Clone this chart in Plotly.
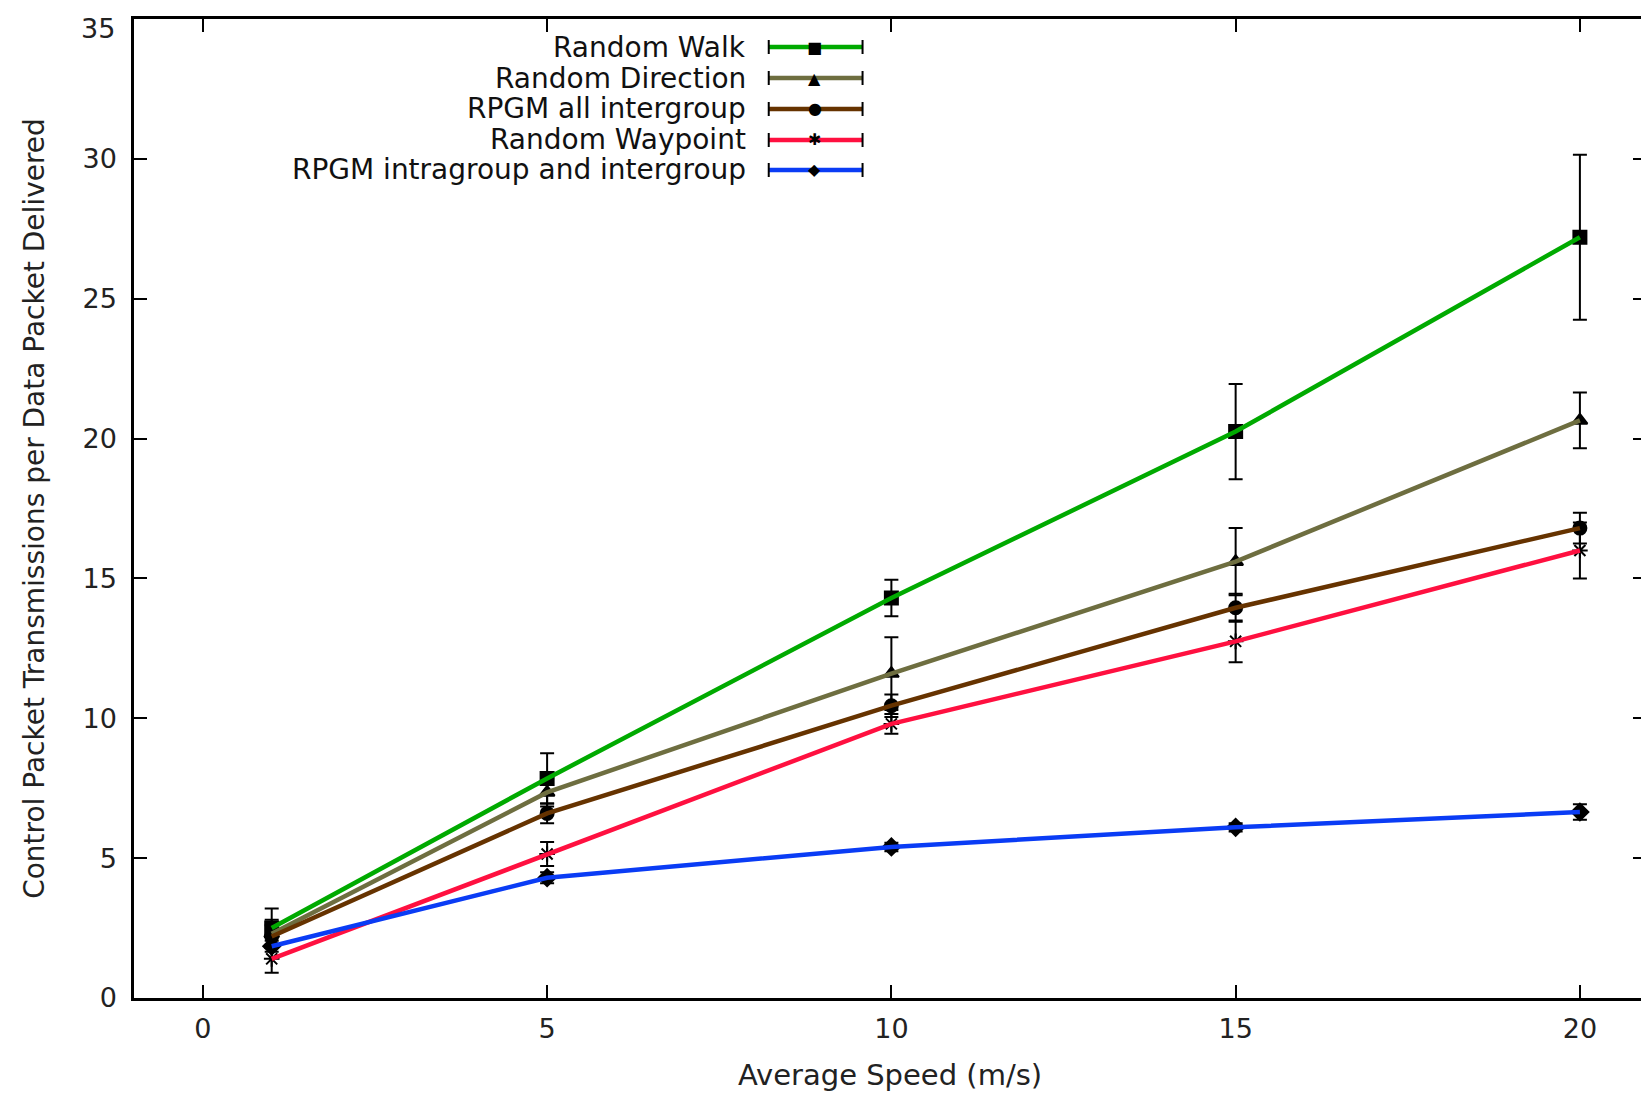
import plotly.graph_objects as go

# ---------------- data ----------------
speeds = [1, 5, 10, 15, 20]
series_names = ["Random Walk", "Random Direction", "RPGM all intergroup",
                "Random Waypoint", "RPGM intragroup and intergroup"]
random_walk = [2.5, 7.85, 14.3, 20.25, 27.2]
random_walk_err = [0.7, 0.9, 0.65, 1.7, 2.95]
random_direction = [2.3, 7.35, 11.6, 15.6, 20.65]
random_direction_err = [0.5, 0.5, 1.3, 1.2, 1.0]
rpgm_all = [2.2, 6.6, 10.45, 13.95, 16.8]
rpgm_all_err = [0.4, 0.35, 0.4, 0.5, 0.55]
random_waypoint = [1.4, 5.15, 9.8, 12.75, 16.0]
random_waypoint_err = [0.5, 0.43, 0.35, 0.75, 1.0]
rpgm_intra = [1.85, 4.3, 5.4, 6.1, 6.65]
rpgm_intra_err = [0.2, 0.2, 0.15, 0.15, 0.28]

x_ticks = [0, 5, 10, 15, 20]
y_ticks = [0, 5, 10, 15, 20, 25, 30, 35]

# ---------------- styles ----------------
colors = ["#00AA00", "#6E6E40", "#663300", "#FF1040", "#0A3CF5"]
symbols = ["square", "triangle-up", "circle", "asterisk-open", "diamond"]
glyphs = ["■", "▲", "●", "✱", "◆"]
values = [random_walk, random_direction, rpgm_all, random_waypoint, rpgm_intra]
errors = [random_walk_err, random_direction_err, rpgm_all_err,
          random_waypoint_err, rpgm_intra_err]

FONT = "DejaVu Sans"
TICK_SIZE = 27
OFF = 8  # default body margin of the html page
W, H = 1649 - OFF, 1093 - OFF
ML, MR, MT, MB = 134 - OFF, 0, 19 - OFF, 95

fig = go.Figure()

# markers + error bars (black), drawn first
for name, v, e, sym in zip(series_names, values, errors, symbols):
    fig.add_trace(go.Scatter(
        x=speeds, y=v, mode="markers", name=name, showlegend=False,
        marker=dict(symbol=sym, size=13, color="black",
                    line=dict(color="black", width=2)),
        error_y=dict(type="data", array=e, visible=True, color="black",
                     thickness=2, width=7),
    ))

# coloured lines on top
for name, v, c in zip(series_names, values, colors):
    fig.add_trace(go.Scatter(
        x=speeds, y=v, mode="lines", name=name, showlegend=False,
        line=dict(color=c, width=4.5),
    ))

# ---------------- custom legend (text left, sample right) ----------------
pw = W - ML - MR
ph = H - MT - MB


def px_x(px):
    # px is a page pixel position
    return (px - OFF - ML) / pw


def px_y(py):
    return (H - MB - (py - OFF)) / ph


row_y = [47, 78, 109, 140, 170]
text_right = 749
line_x0, line_x1, mark_x = 770, 864, 816
shapes = []
annotations = []
for name, c, g, ry in zip(series_names, colors, glyphs, row_y):
    annotations.append(dict(
        xref="paper", yref="paper", x=px_x(text_right), y=px_y(ry),
        xanchor="right", yanchor="middle", text=name, showarrow=False,
        font=dict(family=FONT, size=28, color="#111111")))
    shapes.append(dict(type="line", xref="paper", yref="paper",
                       x0=px_x(line_x0), x1=px_x(line_x1),
                       y0=px_y(ry), y1=px_y(ry),
                       line=dict(color=c, width=4.5)))
    for xe in (line_x0, line_x1):
        shapes.append(dict(type="line", xref="paper", yref="paper",
                           x0=px_x(xe), x1=px_x(xe),
                           y0=px_y(ry - 7), y1=px_y(ry + 7),
                           line=dict(color="black", width=2)))
    annotations.append(dict(
        xref="paper", yref="paper", x=px_x(mark_x), y=px_y(ry),
        xanchor="center", yanchor="middle", text=g, showarrow=False,
        font=dict(family=FONT, size=16, color="black")))

# the top y tick label sits at the very top edge; draw it as an annotation
annotations.append(dict(
    xref="paper", yref="y", x=0, y=y_ticks[-1], xanchor="right",
    yanchor="top", xshift=-17, yshift=8, text=str(y_ticks[-1]), showarrow=False,
    font=dict(family=FONT, size=TICK_SIZE, color="#222222")))

axis_common = dict(
    showgrid=False, zeroline=False, showline=True, linecolor="black",
    linewidth=2.5, mirror="ticks", ticks="inside", ticklen=13,
    tickwidth=1.5, tickcolor="black",
    tickfont=dict(family=FONT, size=TICK_SIZE, color="#222222"),
)

fig.update_layout(
    width=W, height=H,
    margin=dict(l=ML, r=MR, t=MT, b=MB),
    paper_bgcolor="white", plot_bgcolor="white",
    showlegend=False,
    xaxis=dict(range=[-1, 20.96], tickvals=x_ticks, ticklabelstandoff=5,
               title=dict(text="Average Speed (m/s)", standoff=22,
                          font=dict(family=FONT, size=29, color="#222222")),
               **axis_common),
    yaxis=dict(range=[0, 35], tickvals=y_ticks,
               ticktext=[str(v) if v != y_ticks[-1] else "" for v in y_ticks],
               ticklabelstandoff=9,
               title=dict(text="Control Packet Transmissions per Data Packet Delivered",
                          standoff=30,
                          font=dict(family=FONT, size=28, color="#222222")),
               **axis_common),
    shapes=shapes,
    annotations=annotations,
)

fig.write_html("out.html")
